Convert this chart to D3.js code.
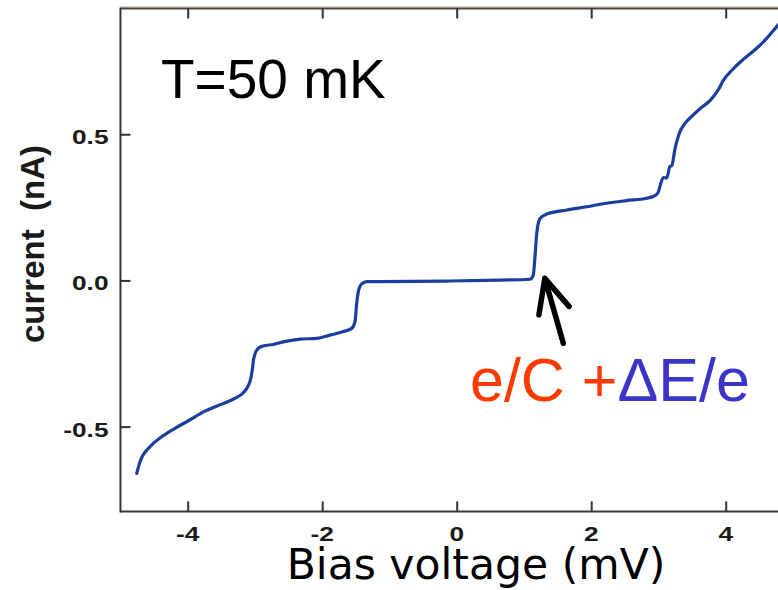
<!DOCTYPE html>
<html>
<head>
<meta charset="utf-8">
<script src="https://cdn.jsdelivr.net/npm/d3@7"></script>
<style>
  html, body { margin: 0; padding: 0; background: #ffffff; overflow: hidden; }
  svg { display: block; }
</style>
</head>
<body>
<svg id="chart" width="778" height="590"></svg>
<script>
// Current–voltage trace of the junction at T = 50 mK
const biasVoltage = [
  -4.758, -4.709, -4.561, -4.387, -4.189, -3.991, -3.743, -3.494, -3.297, -3.173,
  -3.099, -3.070, -3.048, -3.035, -3.024, -3.000, -2.950, -2.876, -2.727, -2.578,
  -2.330, -2.082, -1.884, -1.686, -1.561, -1.512, -1.487, -1.463, -1.413, -1.338,
  -1.140, -0.100, 0.644, 1.090, 1.139, 1.164, 1.190, 1.239, 1.338, 1.636,
  1.933, 2.230, 2.528, 2.825, 2.949, 2.998, 3.023, 3.072, 3.122, 3.172,
  3.197, 3.246, 3.320, 3.395, 3.518, 3.643, 3.767, 3.890, 3.964, 4.113,
  4.262, 4.461, 4.610, 4.758, 4.880
];
const currentNA = [
  -0.660, -0.620, -0.569, -0.535, -0.506, -0.480, -0.447, -0.423, -0.403, -0.384,
  -0.360, -0.343, -0.318, -0.298, -0.275, -0.252, -0.232, -0.224, -0.219, -0.210,
  -0.201, -0.198, -0.187, -0.175, -0.164, -0.141, -0.078, -0.039, -0.012, -0.004,
  -0.004, -0.002, 0.001, 0.004, 0.018, 0.081, 0.161, 0.212, 0.227, 0.241,
  0.252, 0.264, 0.273, 0.281, 0.290, 0.302, 0.322, 0.352, 0.350, 0.390,
  0.392, 0.450, 0.509, 0.537, 0.566, 0.592, 0.615, 0.652, 0.684, 0.724,
  0.756, 0.794, 0.828, 0.868, 0.900
];

const xTicks = [-4, -2, 0, 2, 4];
const yTicks = [-0.5, 0.0, 0.5];
const xTickLabels = ["-4", "-2", "0", "2", "4"];
const yTickLabels = ["-0.5", "0.0", "0.5"];

const titleText = "T=50 mK";
const xAxisTitle = "Bias voltage (mV)";
const yAxisTitle = "current  (nA)";
const noteParts = [
  { text: "e/C +", color: "#ff3a00" },
  { text: "\u0394E/e", color: "#3a35c8" }
];
// arrow from the note up to the onset of the first step: [tail, tip] in (mV, nA)
const arrowTail = [1.585, -0.215];
const arrowTip = [1.31, 0.007];

const svg = d3.select("#chart");

const x = d3.scaleLinear().domain([-5, 5]).range([120.45, 792.95]);
const y = d3.scaleLinear().domain([-0.79, 0.93]).range([511.4, 8.5]);

const plotLeft = x.range()[0], plotRight = x.range()[1];
const plotTop = y.range()[1], plotBottom = y.range()[0];

// frame
svg.append("line")
  .attr("x1", plotLeft).attr("x2", plotRight)
  .attr("y1", plotTop - 1.6).attr("y2", plotTop - 1.6)
  .attr("stroke", "#d9c9a9").attr("stroke-width", 1.5);
svg.append("line")
  .attr("x1", plotLeft).attr("x2", plotRight)
  .attr("y1", plotTop).attr("y2", plotTop)
  .attr("stroke", "#4e463c").attr("stroke-width", 2);
svg.append("line")
  .attr("x1", plotLeft).attr("x2", plotRight)
  .attr("y1", plotBottom).attr("y2", plotBottom)
  .attr("stroke", "#3a3a3a").attr("stroke-width", 2);
svg.append("line")
  .attr("x1", plotLeft).attr("x2", plotLeft)
  .attr("y1", plotTop - 1).attr("y2", plotBottom + 1)
  .attr("stroke", "#333333").attr("stroke-width", 2);

// inward tick marks on bottom, top and left
function styleTicks(g) {
  g.select(".domain").remove();
  g.selectAll(".tick line").attr("stroke", "#333333").attr("stroke-width", 2);
  g.selectAll(".tick text").remove();
}
svg.append("g")
  .attr("transform", `translate(0,${plotBottom})`)
  .call(d3.axisBottom(x).tickValues(xTicks).tickSize(-10).tickFormat(""))
  .call(styleTicks);
svg.append("g")
  .attr("transform", `translate(0,${plotTop})`)
  .call(d3.axisTop(x).tickValues(xTicks).tickSize(-10).tickFormat(""))
  .call(styleTicks);
svg.append("g")
  .attr("transform", `translate(${plotLeft},0)`)
  .call(d3.axisLeft(y).tickValues(yTicks).tickSize(-10).tickFormat(""))
  .call(styleTicks);

// tick labels (bold, slightly widened glyphs)
const tickFont = "'Liberation Sans', Arial, Helvetica, sans-serif";
svg.append("g").selectAll("text")
  .data(xTicks)
  .join("text")
  .attr("transform", (d) => `translate(${x(d)},541) scale(1.25,1)`)
  .attr("text-anchor", "middle")
  .attr("font-family", tickFont)
  .attr("font-weight", "bold")
  .attr("font-size", 21)
  .attr("fill", "#1a1a1a")
  .text((d, i) => xTickLabels[i]);
svg.append("g").selectAll("text")
  .data(yTicks)
  .join("text")
  .attr("transform", (d) => `translate(108.5,${y(d) + 10}) scale(1.25,1)`)
  .attr("text-anchor", "end")
  .attr("font-family", tickFont)
  .attr("font-weight", "bold")
  .attr("font-size", 21)
  .attr("fill", "#1a1a1a")
  .text((d, i) => yTickLabels[i]);

// y axis title
svg.append("text")
  .attr("transform", "translate(44,244) rotate(-90)")
  .attr("text-anchor", "middle")
  .attr("font-family", tickFont)
  .attr("font-weight", "bold")
  .attr("font-size", 33)
  .attr("fill", "#1a1a1a")
  .style("white-space", "pre")
  .text(yAxisTitle);

// x axis title
svg.append("text")
  .attr("x", 476)
  .attr("y", 579)
  .attr("text-anchor", "middle")
  .attr("font-family", "'DejaVu Sans', sans-serif")
  .attr("font-size", 42.5)
  .attr("fill", "#000000")
  .text(xAxisTitle);

// I–V trace
const clipId = "plot-clip";
svg.append("clipPath").attr("id", clipId)
  .append("rect")
  .attr("x", plotLeft).attr("y", plotTop)
  .attr("width", plotRight - plotLeft).attr("height", plotBottom - plotTop);

const points = biasVoltage.map((v, i) => [v, currentNA[i]]);
const line = d3.line()
  .x((d) => x(d[0]))
  .y((d) => y(d[1]))
  .curve(d3.curveMonotoneX);

svg.append("path")
  .datum(points)
  .attr("clip-path", `url(#${clipId})`)
  .attr("d", line)
  .attr("fill", "none")
  .attr("stroke", "#1c3e9c")
  .attr("stroke-width", 3.2)
  .attr("stroke-linejoin", "round")
  .attr("stroke-linecap", "round");

// temperature label
svg.append("text")
  .attr("x", 161)
  .attr("y", 98)
  .attr("font-family", tickFont)
  .attr("font-size", 55)
  .attr("fill", "#000000")
  .text(titleText);

// threshold annotation
const note = svg.append("text")
  .attr("x", 470)
  .attr("y", 401)
  .attr("font-family", tickFont)
  .attr("font-size", 61)
  .style("white-space", "pre");
note.selectAll("tspan")
  .data(noteParts)
  .join("tspan")
  .attr("fill", (d) => d.color)
  .text((d) => d.text);

// arrow with an open head
const tx = x(arrowTip[0]), ty = y(arrowTip[1]);
const sx = x(arrowTail[0]), sy = y(arrowTail[1]);
const ang = Math.atan2(sy - ty, sx - tx);
const headLen = 37, headAng = 25 * Math.PI / 180;
const wing = (s) => [tx + headLen * Math.cos(ang + s * headAng), ty + headLen * Math.sin(ang + s * headAng)];
const w1 = wing(1), w2 = wing(-1);
svg.append("path")
  .attr("d", `M${sx},${sy}L${tx},${ty}M${w1[0]},${w1[1]}L${tx},${ty}L${w2[0]},${w2[1]}`)
  .attr("fill", "none")
  .attr("stroke", "#000000")
  .attr("stroke-width", 5.5)
  .attr("stroke-linecap", "round")
  .attr("stroke-linejoin", "round");
</script>
</body>
</html>
